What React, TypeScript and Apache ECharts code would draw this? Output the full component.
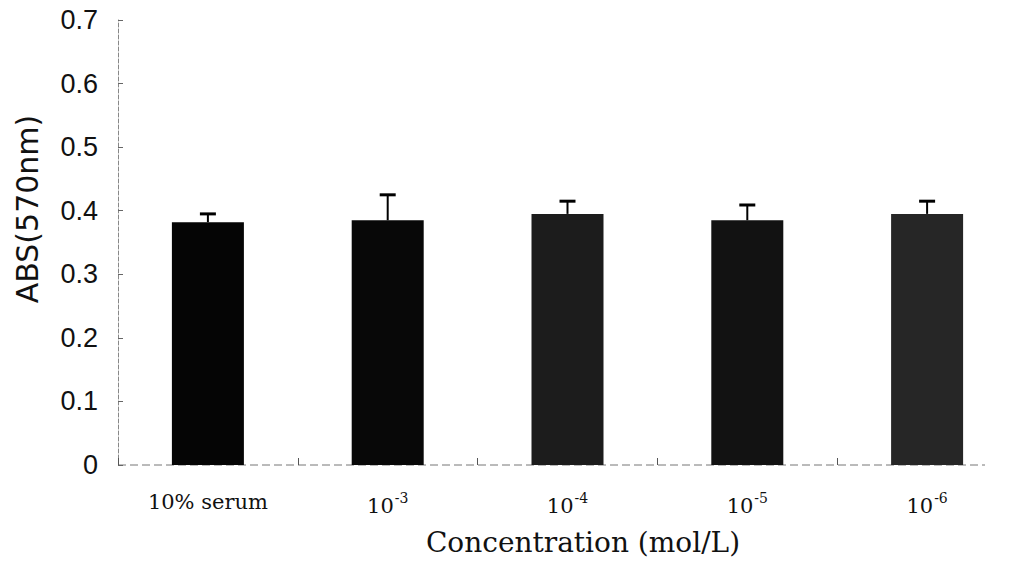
import React, { useEffect, useRef } from "react";
import * as echarts from "echarts";

const categories = ["10% serum", "10^-3", "10^-4", "10^-5", "10^-6"];
const means = [0.382, 0.385, 0.395, 0.385, 0.395];
const errors = [0.013, 0.04, 0.02, 0.024, 0.02];
const barColors = ["#050505", "#080808", "#1c1c1c", "#121212", "#262626"];
const yTicks = [0, 0.1, 0.2, 0.3, 0.4, 0.5, 0.6, 0.7];
const yTitle = "ABS(570nm)";
const xTitle = "Concentration (mol/L)";

export default function App() {
  const ref = useRef<HTMLDivElement>(null);
  useEffect(() => {
    if (!ref.current) return;
    const chart = echarts.init(ref.current, null, { renderer: "svg" });
    const option: any = {
      animation: false,
      backgroundColor: "#ffffff",
      grid: { left: 118, top: 20, width: 905, bottom: 105, containLabel: false },
      xAxis: {
        type: "category",
        data: categories,
        axisLine: { show: false },
        axisTick: { show: true, inside: true, length: 7, lineStyle: { color: "#555", width: 1 } },
        axisLabel: {
          margin: 26,
          interval: 0,
          color: "#111",
          fontFamily: "DejaVu Serif",
          fontSize: 21,
          formatter: (v: string) => {
            const p = v.split("^");
            return p.length === 2 ? `{base|${p[0]}}{sup|${p[1]}}` : `{base|${v}}`;
          },
          rich: {
            base: { fontFamily: "DejaVu Serif", fontSize: 21, color: "#111", verticalAlign: "bottom" },
            sup: { fontFamily: "DejaVu Serif", fontSize: 14, color: "#111", verticalAlign: "bottom", padding: [0, 0, 11, 1] },
          },
        },
      },
      yAxis: {
        type: "value",
        min: 0,
        max: 0.7,
        interval: 0.1,
        splitLine: { show: false },
        axisLine: { show: true, lineStyle: { color: "#888", width: 1, type: "dashed" } },
        axisTick: { show: true, inside: true, length: 5, lineStyle: { color: "#666" } },
        axisLabel: {
          margin: 20,
          color: "#111",
          fontFamily: "Liberation Sans",
          fontSize: 27,
          formatter: (v: number) => {
            const t = yTicks.find((x) => Math.abs(x - v) < 1e-9);
            return t === 0 ? "0" : (t ?? v).toFixed(1);
          },
        },
      },
      graphic: [
        {
          type: "line",
          shape: { x1: 118, y1: 465, x2: 985, y2: 465 },
          style: { stroke: "#777", lineWidth: 1, lineDash: [8, 4] },
          z: 0,
        },
        {
          type: "text",
          x: 27,
          y: 209,
          rotation: Math.PI / 2,
          style: {
            text: yTitle,
            fontFamily: "DejaVu Sans",
            fontSize: 30,
            fill: "#111",
            align: "center",
            verticalAlign: "middle",
          },
        },
        {
          type: "text",
          x: 583,
          y: 542,
          style: {
            text: xTitle,
            fontFamily: "DejaVu Serif",
            fontSize: 28,
            fill: "#111",
            align: "center",
            verticalAlign: "middle",
          },
        },
      ],
      series: [
        {
          type: "bar",
          barWidth: 72,
          data: means.map((m, i) => ({ value: m, itemStyle: { color: barColors[i] } })),
          z: 2,
        },
        {
          type: "custom",
          z: 3,
          data: means.map((m, i) => [i, m, errors[i]]),
          encode: { x: 0, y: 1 },
          renderItem: (params: any, api: any) => {
            const i = api.value(0);
            const m = api.value(1);
            const e = api.value(2);
            const base = api.coord([i, m]);
            const top = api.coord([i, m + e]);
            return {
              type: "group",
              children: [
                {
                  type: "line",
                  shape: { x1: base[0], y1: base[1], x2: top[0], y2: top[1] },
                  style: { stroke: "#000", lineWidth: 2 },
                },
                {
                  type: "line",
                  shape: { x1: top[0] - 8, y1: top[1], x2: top[0] + 8, y2: top[1] },
                  style: { stroke: "#000", lineWidth: 3 },
                },
              ],
            };
          },
        },
      ],
    };
    chart.setOption(option);
    return () => chart.dispose();
  }, []);
  return (
    <div
      ref={ref}
      style={{ position: "absolute", left: 0, top: 0, width: 1017, height: 570, background: "#fff" }}
    />
  );
}
